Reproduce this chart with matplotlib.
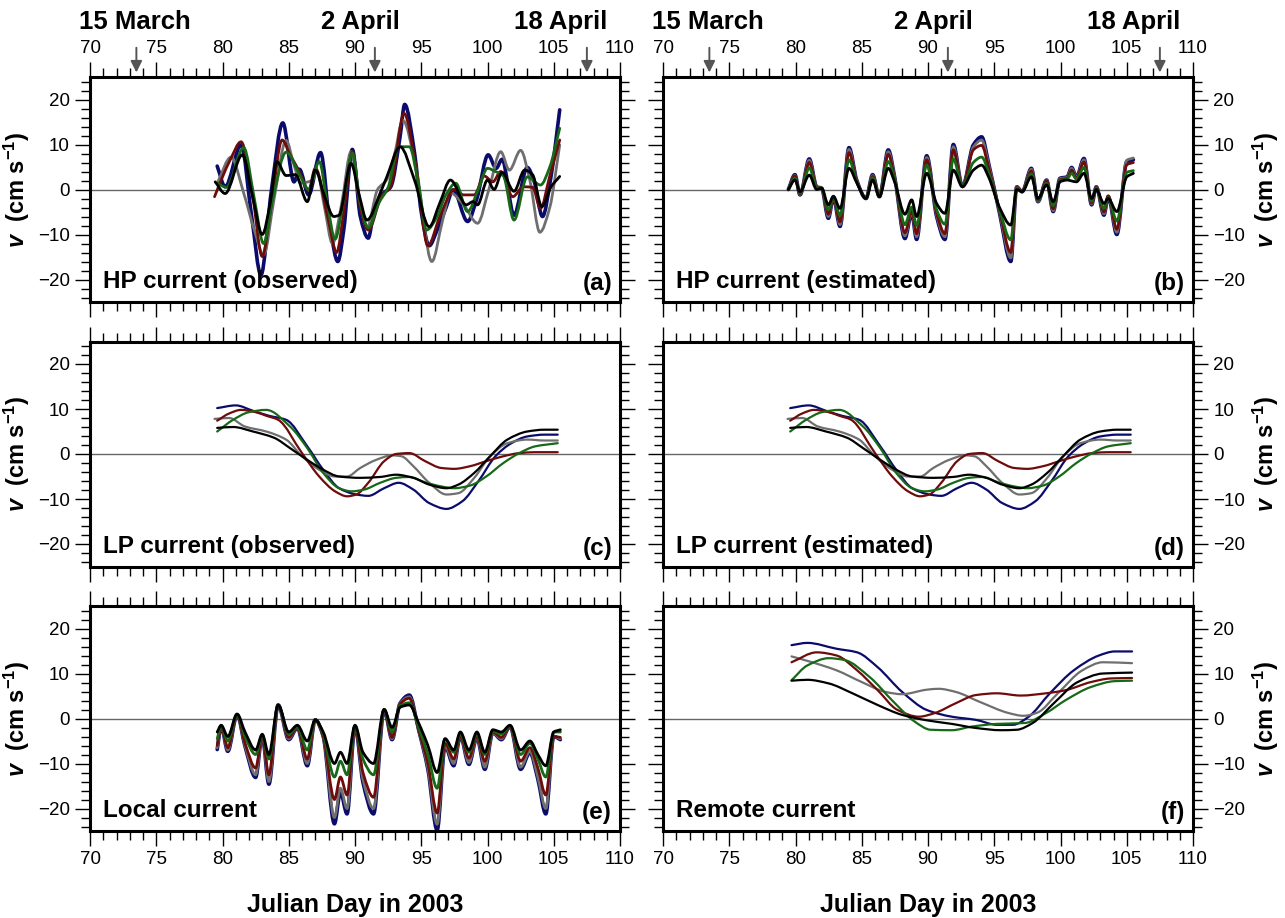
import matplotlib.pyplot as plt
from matplotlib.ticker import MultipleLocator
from matplotlib.path import Path
from matplotlib.patches import PathPatch

plt.rcParams['font.family'] = ['Liberation Sans', 'DejaVu Sans']
plt.rcParams['mathtext.fontset'] = 'custom'
plt.rcParams['mathtext.rm'] = 'Liberation Sans:bold'
plt.rcParams['mathtext.it'] = 'Liberation Sans:bold:italic'
plt.rcParams['axes.unicode_minus'] = True

# ---------------- data ----------------
# (a) HP current observed
a_navy_d = [79.6, 80.2, 81.4, 82.2, 82.9, 83.7, 84.55, 85.4, 85.8, 86.5, 87.4, 88.15, 88.7, 89.15, 89.8, 90.4,
            91.0, 91.4, 92.0, 92.7, 93.4, 93.75, 94.5, 95.0, 95.6, 96.2, 96.9, 97.4, 98.5, 99.2, 100.05, 100.65,
            101.1, 102.0, 103.0, 103.5, 104.15, 104.8, 105.45]
a_navy_v = [5.2, 0.6, 9.9, -6, -19, 0, 14.8, 1.7, 4.5, -1.2, 8.2, -9, -16, -9, 8.9, -6,
            -10.8, -5.5, -1.2, 0.6, 11.7, 18.9, 8, -5, -12.5, -9, -3.8, -0.1, -7.1, -2, 7.7, 4.7,
            6.7, -5.7, 4.9, 2, -6, 3, 17.7]
a_red_d = [79.4, 80.0, 80.6, 81.4, 82.3, 83.0, 83.7, 84.5, 85.1, 85.75, 86.5, 87.0, 88.0, 88.6, 89.2, 89.8,
           90.4, 91.0, 92.0, 92.7, 93.7, 94.6, 95.5, 96.4, 97.5, 98.2, 99.0, 99.75, 100.4, 101.0, 101.9,
           102.7, 103.4, 104.0, 104.7, 105.45]
a_red_v = [-1.6, 2.8, 6.7, 10.6, -2, -14.9, -3, 11.0, 7.7, 4.3, -0.1, 4.7, -7, -14, -4, 8.4,
           -4, -9, -1.5, 0.8, 16.9, 5, -12.5, -6, 0, -1.2, -1.2, 3, 1.7, 4, -1.6,
           0.6, 0.5, -4.2, 3, 11]
a_gray_d = [79.6, 80.65, 81.6, 82.4, 83.1, 83.9, 84.8, 85.4, 85.9, 86.8, 87.1, 87.7, 88.3, 89.0, 89.7, 90.3,
            90.9, 91.7, 92.4, 93.0, 93.6, 94.6, 95.8, 96.6, 97.2, 98.2, 99.25, 100.1, 101.0, 101.65, 102.5,
            103.2, 103.95, 104.7, 105.45]
a_gray_v = [1.4, 7.2, -0.8, -9, -14.5, -2, 10.9, 5.4, 1.4, 2.1, 4.3, -4, -12, -3, 8.4, -2,
            -8.5, 0, 2.2, 8, 15.4, 5, -16, -7, -0.8, -3.4, -7.5, 0, 8.4, 4.3, 8.7,
            2, -9.5, -4, 9.9]
a_green_d = [79.6, 80.3, 81.6, 82.4, 83.1, 83.8, 84.8, 85.9, 86.5, 87.3, 87.9, 88.5, 89.1, 89.8, 90.4, 91.0,
             91.8, 92.5, 93.3, 94.1, 94.8, 95.4, 96.2, 96.86, 97.6, 98.5, 99.3, 100.0, 100.6, 101.2, 102.0,
             103.0, 104.0, 104.7, 105.45]
a_green_v = [1.4, 0.5, 9.3, -2, -12, -2, 8.3, 2.8, 0, 6.2, -3, -11, -3, 8.1, -3, -8.5,
             -3, 0.5, 9.5, 9.5, 1, -9, -6, -1.2, 1.4, -4.9, 0, 4.7, 4, 3, -6.8,
             2.8, 1, 5, 13.6]
a_black_d = [79.45, 80.2, 81.5, 82.3, 83.0, 83.6, 84.1, 84.8, 85.5, 86.4, 87.0, 87.7, 88.4, 88.8, 89.7, 90.3,
             90.9, 91.9, 92.4, 93.4, 94.5, 95.6, 96.4, 97.2, 98.4, 98.9, 99.25, 100.0, 100.5, 101.1, 102.0,
             102.8, 103.4, 104.1, 104.8, 105.45]
a_black_v = [1.7, -0.9, 7.7, -2, -10, -3, 6.2, 3.1, 3.3, -2.7, 4.3, -1.5, -6, -5.7, 5.8, -1,
             -6.8, -0.8, 2.8, 9.5, 2, -8.3, -3, 2.1, -3.4, -2.7, -3.4, 2.1, 0, 3.8, -0.4,
             4.3, 3.3, -3.8, 0.6, 2.9]

# (b) HP current estimated
b_days = [79.46, 79.96, 80.34, 81.04, 81.6, 81.97, 82.48, 82.86, 83.36, 84.04, 84.62, 85.32, 85.82, 86.33,
          87.0, 87.5, 88.26, 88.77, 89.14, 89.9, 90.65, 91.28, 91.91, 92.6, 93.42, 94.05, 94.6, 95.4, 96.25,
          96.7, 97.1, 97.8, 98.3, 98.95, 99.45, 99.96, 100.5, 100.84, 101.2, 101.77, 102.35, 102.7, 103.28,
          103.6, 104.25, 105.0, 105.5]
b_navy = [0, 3.3, -1.2, 6.8, 0.6, 0.3, -6.4, -1.9, -8.2, 9.3, 2.1, -2.0, 3.3, -1.6, 8.8, 2.5, -10.9, -5.3,
          -11.1, 7.5, -6.0, -11.1, 10.0, 0.7, 9.9, 11.7, 5.5, -5.3, -16, 0.6, -0.5, 4.7, -2.7, 2.1, -4.9, 2.5,
          2.8, 4.9, 2.8, 6.9, -3.4, 0.6, -5.7, -1.6, -10, 6.2, 6.6]
b_gray = [0, 3.1, -1.1, 6.5, 0.6, 0.3, -6.0, -1.8, -7.8, 8.9, 2.0, -1.9, 3.1, -1.5, 8.4, 2.4, -10.3, -5.0,
          -10.5, 7.1, -5.7, -10.5, 9.5, 0.7, 9.4, 11.0, 5.2, -5.0, -15.2, 0.6, -0.5, 4.5, -2.6, 2.0, -4.7, 2.4,
          2.7, 4.7, 2.7, 6.6, -3.2, 0.6, -5.4, -1.5, -9.5, 6.5, 7.0]
b_red = [0, 3.0, -1.0, 6.0, 0.5, 0.3, -5.5, -1.7, -7.2, 8.2, 1.9, -1.8, 2.9, -1.4, 7.8, 2.2, -9.6, -4.7,
         -9.8, 6.6, -5.3, -9.8, 8.8, 0.6, 8.8, 9.8, 4.6, -4.7, -14, 0.5, -0.4, 4.1, -2.4, 1.9, -4.3, 2.2,
         2.5, 4.3, 2.5, 6.1, -3.0, 0.5, -5.0, -1.4, -8.8, 5.5, 6.0]
b_green = [0, 2.5, -0.8, 4.8, 0.4, 0.3, -4.5, -1.6, -5.8, 6.6, 1.7, -1.8, 2.6, -1.4, 6.2, 2.0, -7.8, -3.9,
           -8.0, 5.4, -4.5, -7.7, 6.8, 0.7, 6.0, 7.2, 3.5, -4.5, -11.2, 0.3, -0.5, 3.5, -2.2, 1.4, -3.6, 2.0,
           2.3, 3.6, 2.3, 4.9, -2.6, 0.3, -4.2, -1.8, -7.0, 3.8, 4.2]
b_black = [0, 2.1, -0.5, 3.2, 0, 0.3, -3.4, -1.5, -4.2, 4.7, 1.5, -2.0, 2.1, -1.6, 4.7, 1.5, -5.5, -2.3,
           -6.0, 3.6, -3.1, -5.3, 4.3, 0.6, 4.3, 5.4, 2.6, -4.0, -7.9, 0, -0.5, 2.8, -2.0, 1.0, -2.7, 1.7,
           2.1, 1.9, 1.7, 3.6, -2.0, 0, -3.1, -2.0, -4.9, 2.8, 3.6]

# (c) / (d) LP current (observed and estimated look the same)
lp_navy_d = [79.6, 81.0, 82.3, 83.5, 84.8, 86.4, 87.6, 88.8, 90.1, 91.0, 92.2, 93.3, 94.4, 95.6, 96.9, 98.1,
             99.3, 100.6, 101.8, 103.0, 104.3, 105.3]
lp_navy_v = [10.2, 10.8, 9.6, 8.5, 7.6, 1.7, -3.5, -7.6, -9, -9.3, -7.6, -6.4, -7.9, -10.9, -12.2, -10.5,
             -6.1, -0.5, 2.4, 3.9, 4.3, 4.3]
lp_red_d = [79.6, 80.5, 81.4, 82.5, 83.3, 84.2, 86.0, 87.3, 88.5, 89.4, 90.1, 91.0, 92.2, 93.1, 94.1, 95.3,
            96.5, 97.5, 98.7, 99.9, 101.2, 102.4, 103.6, 105.3]
lp_red_v = [7.4, 9.0, 9.8, 9.3, 8.5, 7.6, 0.2, -5, -8.3, -9.4, -9, -6.4, -1.6, 0, 0.2, -1.6,
            -3.1, -3.3, -2.7, -1.6, -0.5, 0.2, 0.4, 0.4]
lp_gray_d = [79.4, 80.5, 81.7, 83.3, 84.8, 86.0, 87.3, 88.5, 89.4, 90.4, 91.6, 92.8, 93.5, 94.4, 95.6, 96.9,
             97.8, 99.0, 100.2, 101.5, 103.0, 104.3, 105.3]
lp_gray_v = [7.8, 8.0, 6.1, 5.0, 3.2, -0.5, -3.5, -5, -5, -3.1, -1.3, -0.3, -0.5, -2.7, -6.4, -9,
             -8.7, -5.3, -0.5, 2.4, 3.2, 3.0, 3.0]
lp_green_d = [79.6, 80.8, 82.0, 83.3, 85.1, 86.4, 87.6, 88.8, 89.75, 90.7, 91.9, 93.1, 94.1, 95.3, 96.5, 97.5,
              98.7, 99.9, 101.2, 102.4, 103.6, 105.3]
lp_green_v = [5.0, 7.6, 9.3, 9.8, 6.1, 1.3, -4.2, -7.6, -8.3, -7.9, -6.4, -5.3, -5.1, -6.3, -7.2, -7.6,
              -7.0, -5.0, -2.0, 0.2, 1.7, 2.4]
lp_black_d = [79.6, 80.8, 82.3, 83.9, 85.1, 86.4, 87.6, 88.8, 90.4, 91.9, 93.1, 94.4, 95.6, 96.9, 97.8, 99.0,
              100.2, 101.5, 103.0, 104.3, 105.3]
lp_black_v = [5.8, 6.0, 5.0, 3.6, 1.3, -1.3, -3.5, -5, -5.3, -5.1, -4.6, -5.3, -6.8, -7.6, -6.8, -4.2,
              -0.5, 3.2, 5.0, 5.4, 5.4]

# (e) Local current
e_days = [79.6, 79.9, 80.4, 81.1, 81.7, 82.5, 83.0, 83.5, 84.2, 85.0, 85.65, 86.4, 87.0, 87.6, 88.45, 88.9,
          89.4, 90.0, 90.6, 91.4, 92.2, 92.8, 93.4, 94.1, 94.8, 95.5, 96.2, 96.8, 97.45, 97.95, 98.6, 99.2,
          99.8, 100.4, 101.05, 101.7, 102.5, 103.2, 103.8, 104.4, 105.0, 105.5]
e_navy = [-6.9, -1.8, -7.3, 0.8, -6.2, -13.1, -4, -14.6, 3, -4.7, -2.1, -10.5, -0.3, -4, -23.4, -16.4,
          -21.2, -1.8, -14.2, -21.2, 1.9, -4.7, 3.4, 5.2, -2.5, -11.3, -24.8, -6.2, -10.5, -4, -10.2, -4.3,
          -11.3, -3.2, -4.7, -1.8, -11.3, -7.6, -13.5, -21.2, -4, -4.7]
e_gray = [-6.5, -1.8, -7, 0.8, -6, -12.5, -4, -14, 3, -4.5, -2, -10, -0.3, -4, -22, -15.5,
          -20, -1.8, -13.5, -20, 1.9, -4.5, 3.4, 4.8, -2.5, -11, -23.5, -6, -10, -4, -9.8, -4.2,
          -10.8, -3.2, -4.5, -1.8, -10.8, -7.3, -13, -20, -4, -4.5]
e_red = [-6, -1.8, -6.5, 0.8, -5.5, -11, -4, -12.5, 3, -4.2, -2, -9, -0.3, -4, -18, -13,
         -17, -1.8, -12, -17.5, 1.9, -4.2, 3.2, 4.5, -2.5, -10, -21, -5.5, -9, -4, -8.8, -4,
         -9.5, -3, -4.2, -1.8, -9.5, -6.5, -11, -17, -4, -4.2]
e_green = [-4.5, -1.6, -5, 0.9, -4, -8, -3.8, -9, 3, -3.5, -1.8, -7, -0.3, -3.5, -13, -9.5,
           -12.5, -1.6, -9, -12.5, 2, -3, 2.8, 3.5, -2, -8, -15.5, -4.5, -7.5, -3.5, -7.5, -3.5,
           -8, -2.8, -3.5, -1.6, -8, -5.5, -9, -13, -3, -3]
e_black = [-3, -1.5, -4, 1, -3, -7, -3.5, -8, 3, -3, -1.5, -5, -0.3, -3, -10, -7.5,
           -10, -1.5, -7.5, -10, 2, -2, 2.5, 3, -1, -6, -12, -4.5, -7, -3, -7, -3,
           -7.5, -2.5, -3, -1.5, -7, -5, -8, -10.5, -3, -2.5]

# (f) Remote current
f_navy_d = [79.7, 80.9, 83.1, 84.65, 86.2, 88.05, 89.9, 91.8, 93.6, 95.2, 96.4, 97.6, 99.2, 101.0, 102.9, 104.1, 105.4]
f_navy_v = [16.3, 16.8, 15.5, 14.7, 11.4, 5.9, 1.9, 0.4, -0.3, -1.4, -1.4, 0.4, 5.6, 10.7, 14.0, 14.9, 14.9]
f_red_d = [79.7, 81.6, 83.1, 84.65, 86.2, 87.7, 89.3, 90.5, 92.1, 93.6, 95.2, 97.0, 98.9, 100.4, 102.3, 103.8, 105.4]
f_red_v = [12.5, 14.7, 14.0, 10.7, 6.3, 1.9, 0.4, 1.2, 3.4, 5.2, 5.6, 5.1, 5.6, 6.3, 8.1, 8.9, 9.0]
f_gray_d = [79.7, 81.25, 83.1, 85.0, 86.8, 88.05, 89.9, 90.8, 92.1, 93.9, 96.1, 97.2, 98.25, 99.8, 101.65, 103.2, 105.4]
f_gray_v = [13.8, 12.5, 10.7, 8.1, 5.9, 5.4, 6.4, 6.6, 5.9, 3.7, 1.2, 0.6, 1.3, 5.6, 10.7, 12.5, 12.3]
f_green_d = [79.7, 80.9, 82.5, 83.7, 85.6, 87.4, 89.0, 90.2, 91.8, 93.3, 95.2, 97.3, 98.9, 100.4, 102.3, 104.1, 105.4]
f_green_v = [8.5, 11.8, 13.4, 13.0, 9.2, 3.7, -0.7, -2.5, -2.6, -1.8, -1.2, -1.0, 1.2, 4.1, 7.0, 8.3, 8.4]
f_black_d = [79.7, 80.9, 82.5, 84.3, 86.2, 88.05, 89.9, 91.8, 93.6, 95.5, 96.7, 97.9, 99.5, 101.3, 103.2, 105.4]
f_black_v = [8.4, 8.6, 7.8, 5.6, 3.0, 0.8, -0.4, -1.2, -2.1, -2.6, -2.5, -1.0, 3.4, 8.1, 10.0, 10.2]

panel_titles = ['HP current (observed)', 'HP current (estimated)', 'LP current (observed)',
                'LP current (estimated)', 'Local current', 'Remote current']
panel_tags = ['(a)', '(b)', '(c)', '(d)', '(e)', '(f)']
date_names = ['15 March', '2 April', '18 April']
date_days = [73.5, 91.5, 107.5]
date_text_x = [73.4, 90.4, 105.5]

colors = {'navy': '#0b0b6b', 'gray': '#6f6f6f', 'red': '#6e0b0b', 'green': '#176817', 'black': '#000000'}

panels = [
    [('navy', a_navy_d, a_navy_v), ('gray', a_gray_d, a_gray_v), ('red', a_red_d, a_red_v),
     ('green', a_green_d, a_green_v), ('black', a_black_d, a_black_v)],
    [('navy', b_days, b_navy), ('gray', b_days, b_gray), ('red', b_days, b_red),
     ('green', b_days, b_green), ('black', b_days, b_black)],
    [('navy', lp_navy_d, lp_navy_v), ('gray', lp_gray_d, lp_gray_v), ('red', lp_red_d, lp_red_v),
     ('green', lp_green_d, lp_green_v), ('black', lp_black_d, lp_black_v)],
    [('navy', lp_navy_d, lp_navy_v), ('gray', lp_gray_d, lp_gray_v), ('red', lp_red_d, lp_red_v),
     ('green', lp_green_d, lp_green_v), ('black', lp_black_d, lp_black_v)],
    [('navy', e_days, e_navy), ('gray', e_days, e_gray), ('red', e_days, e_red),
     ('green', e_days, e_green), ('black', e_days, e_black)],
    [('navy', f_navy_d, f_navy_v), ('gray', f_gray_d, f_gray_v), ('red', f_red_d, f_red_v),
     ('green', f_green_d, f_green_v), ('black', f_black_d, f_black_v)],
]


def smooth_path(d, v):
    # smooth curve through the read points (bezier segments, flat at turning points)
    n = len(d)
    sec = [(v[i + 1] - v[i]) / (d[i + 1] - d[i]) for i in range(n - 1)]
    m = [0.0] * n
    m[0], m[-1] = sec[0], sec[-1]
    for i in range(1, n - 1):
        if sec[i - 1] * sec[i] <= 0:
            m[i] = 0.0
        else:
            m[i] = 2.0 / (1.0 / sec[i - 1] + 1.0 / sec[i])
    verts = [(d[0], v[0])]
    codes = [Path.MOVETO]
    for i in range(n - 1):
        h = d[i + 1] - d[i]
        verts += [(d[i] + h / 3, v[i] + m[i] * h / 3),
                  (d[i + 1] - h / 3, v[i + 1] - m[i + 1] * h / 3),
                  (d[i + 1], v[i + 1])]
        codes += [Path.CURVE4] * 3
    return Path(verts, codes)


# ---------------- layout ----------------
W, H = 1285, 918
fig = plt.figure(figsize=(W / 100, H / 100), dpi=100)
col_x = [90, 663]
row_top = [77, 341.5, 606]
pw, ph = 530, 225

ylab = r'$\mathit{v}$  (cm s$^{-1}$)'

for i in range(6):
    row, col = i // 2, i % 2
    ax = fig.add_axes([col_x[col] / W, 1 - (row_top[row] + ph) / H, pw / W, ph / H])
    ax.set_xlim(70, 110)
    ax.set_ylim(-25, 25)
    ax.xaxis.set_major_locator(MultipleLocator(5))
    ax.xaxis.set_minor_locator(MultipleLocator(1))
    ax.yaxis.set_major_locator(MultipleLocator(10))
    ax.yaxis.set_minor_locator(MultipleLocator(2))
    ax.tick_params(which='both', direction='out', top=True, bottom=True, left=True, right=True,
                   width=1, labelsize=13.5, labelbottom=(row == 2), labeltop=(row == 0),
                   labelleft=(col == 0), labelright=(col == 1))
    ax.tick_params(which='major', length=11)
    ax.tick_params(which='minor', length=6.5)
    for s in ax.spines.values():
        s.set_linewidth(2.2)

    ax.axhline(0, color='#666666', lw=1, zorder=1)

    lp = row == 1 or i == 5
    for name, d, v in panels[i]:
        if lp:
            lw = 1.6
        else:
            lw = 2.6 if name == 'navy' else 2.0
        ax.add_patch(PathPatch(smooth_path(d, v), fill=False, edgecolor=colors[name], lw=lw,
                               capstyle='round', joinstyle='round', zorder=2))

    ax.text(0.025, 0.04, panel_titles[i], transform=ax.transAxes, fontsize=17.5,
            fontweight='bold', ha='left', va='bottom')
    ax.text(0.985, 0.03, panel_tags[i], transform=ax.transAxes, fontsize=17.5,
            fontweight='bold', ha='right', va='bottom')

    ax.set_ylabel(ylab, fontsize=17, fontweight='bold', labelpad=4)
    if col == 1:
        ax.yaxis.set_label_position('right')

    if row == 2:
        ax.set_xlabel('Julian Day in 2003', fontsize=18, fontweight='bold', labelpad=18)

    if row == 0:
        for nm, dd, tx in zip(date_names, date_days, date_text_x):
            ax.annotate('', xy=(dd, 1.02), xytext=(dd, 1.13),
                        xycoords=('data', 'axes fraction'), textcoords=('data', 'axes fraction'),
                        arrowprops=dict(arrowstyle='-|>', color='#555555', lw=1.4, mutation_scale=17,
                                        shrinkA=0, shrinkB=0),
                        annotation_clip=False)
            ax.text(tx, 1.245, nm, transform=ax.get_xaxis_transform(), fontsize=18.5,
                    fontweight='bold', ha='center', va='center')

fig.savefig('out.png', dpi=100)
